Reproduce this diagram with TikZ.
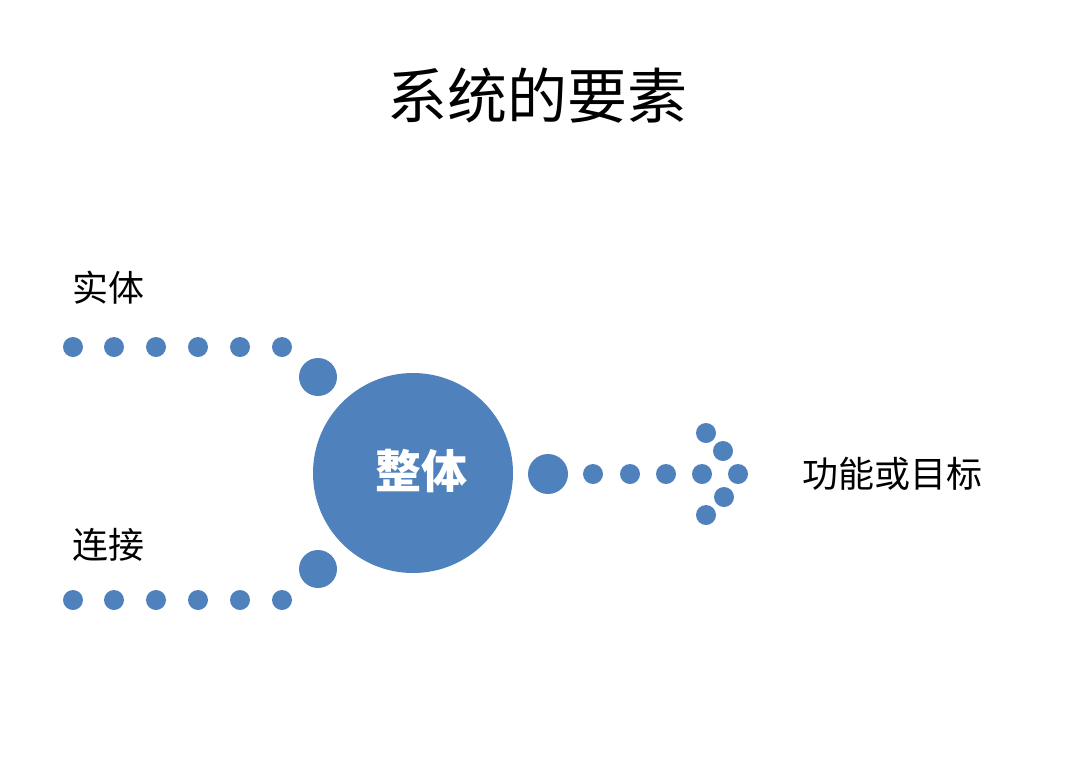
\documentclass[tikz,border=0pt]{standalone}
\usepackage{fontspec}
\setmainfont{Noto Sans CJK SC}
\usepackage{tikz}
\definecolor{sysblue}{HTML}{4F81BD}
\tikzset{
  smalldot/.style={circle, fill=sysblue, inner sep=0pt, minimum size=20pt},
  middot/.style={circle, fill=sysblue, inner sep=0pt, minimum size=38pt},
  label text/.style={font=\fontsize{36}{36}\selectfont, inner sep=0pt}
}

\begin{document}
\begin{tikzpicture}[x=1pt,y=-1pt]
				\useasboundingbox (0,0) rectangle (1080,777);
				\node[font=\fontsize{60}{60}\selectfont, inner sep=0pt] (title) at (537,96) {系统的要素};
				
				\node[circle, fill=sysblue, inner sep=0pt, minimum size=200pt] (whole) at (413,473) {};
				\node[text=white, font=\bfseries\fontsize{46}{46}\selectfont, inner sep=0pt] (wholetext) at (421,471) {整体};
				
				\node[label text, anchor=west] (entity) at (72,288) {实体};
				\node[smalldot] (e1) at (73,347) {};
				\node[smalldot] (e2) at (114,347) {};
				\node[smalldot] (e3) at (156,347) {};
				\node[smalldot] (e4) at (198,347) {};
				\node[smalldot] (e5) at (240,347) {};
				\node[smalldot] (e6) at (282,347) {};
				\node[middot] (e7) at (318,377) {};
				
				\node[label text, anchor=west] (link) at (72,545) {连接};
				\node[smalldot] (c1) at (73,600) {};
				\node[smalldot] (c2) at (114,600) {};
				\node[smalldot] (c3) at (156,600) {};
				\node[smalldot] (c4) at (198,600) {};
				\node[smalldot] (c5) at (240,600) {};
				\node[smalldot] (c6) at (282,600) {};
				\node[middot] (c7) at (318,569) {};
				
				\node[middot, minimum size=40pt] (g0) at (548,474) {};
				\node[smalldot] (g1) at (593,474) {};
				\node[smalldot] (g2) at (630,474) {};
				\node[smalldot] (g3) at (666,474) {};
				\node[smalldot] (g4) at (702,474) {};
				\node[smalldot] (tip) at (738,474) {};
				\node[smalldot] (up1) at (723,451) {};
				\node[smalldot] (up2) at (706,433) {};
				\node[smalldot] (down1) at (724,497) {};
				\node[smalldot] (down2) at (706,515) {};
				\node[label text, anchor=west] (goal) at (802,474) {功能或目标};
			\end{tikzpicture}
\end{document}
